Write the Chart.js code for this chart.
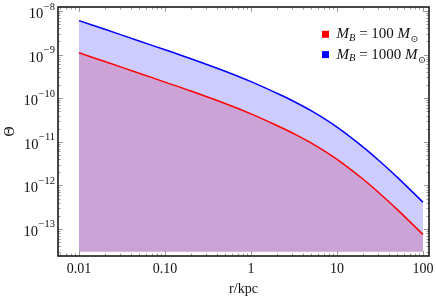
<!DOCTYPE html>
<html>
<head>
<meta charset="utf-8">
<script src="https://cdn.jsdelivr.net/npm/chart.js@4.4.1/dist/chart.umd.min.js"></script>
<style>
  html, body { margin: 0; padding: 0; background: #fff; }
</style>
</head>
<body>
<canvas id="chart" width="436" height="298"></canvas>
<script>
const rKpc = [0.01, 0.02, 0.05, 0.1, 0.2, 0.5, 1, 2, 3, 5, 10, 20, 30, 50, 100];
const theta100 = [1.10e-9, 6.92e-10, 3.74e-10, 2.34e-10, 1.46e-10, 7.55e-11, 4.37e-11, 2.37e-11, 1.61e-11, 9.4e-12, 3.95e-12, 1.40e-12, 7.06e-13, 2.82e-13, 7.45e-14];
const theta1000 = [6.03e-9, 3.80e-9, 2.06e-9, 1.29e-9, 8.04e-10, 4.15e-10, 2.40e-10, 1.30e-10, 8.87e-11, 5.16e-11, 2.17e-11, 7.67e-12, 3.88e-12, 1.55e-12, 4.09e-13];
const fillFloor = 3e-14;
const massLabels = ['100', '1000'];
const xTickVals = [0.01, 0.1, 1, 10, 100];
const xTickLabels = ['0.01', '0.10', '1', '10', '100'];
const yTickExps = [-8, -9, -10, -11, -12, -13];

const serif = '"Liberation Serif", "DejaVu Serif", serif';
const lineColors = ['#ff0000', '#0000ff'];
const toPoints = (vals) => rKpc.map((r, i) => ({ x: r, y: vals[i] }));

// frame, inward ticks, tick labels, titles and legend
const decor = {
  id: 'decor',
  afterDatasetsDraw(chart) {
    const { ctx, chartArea: a, scales: { x, y } } = chart;
    ctx.save();

    ctx.strokeStyle = '#999';
    ctx.lineWidth = 1;
    ctx.beginPath();
    for (let d = -3; d <= 2; d++) {
      for (let k = 1; k <= 9; k++) {
        const v = k * Math.pow(10, d);
        if (v < x.min || v > x.max) continue;
        const px = Math.round(x.getPixelForValue(v)) + 0.5;
        const len = k === 1 ? 5 : 2.5;
        ctx.moveTo(px, a.bottom); ctx.lineTo(px, a.bottom - len);
        ctx.moveTo(px, a.top); ctx.lineTo(px, a.top + len);
      }
    }
    for (let d = -14; d <= -8; d++) {
      for (let k = 1; k <= 9; k++) {
        const v = k * Math.pow(10, d);
        if (v < y.min || v > y.max) continue;
        const py = Math.round(y.getPixelForValue(v)) + 0.5;
        const len = k === 1 ? 5 : 2.5;
        ctx.moveTo(a.left, py); ctx.lineTo(a.left + len, py);
        ctx.moveTo(a.right, py); ctx.lineTo(a.right - len, py);
      }
    }
    ctx.stroke();

    ctx.strokeStyle = '#1a1a1a';
    ctx.lineWidth = 1.6;
    ctx.strokeRect(a.left, a.top, a.right - a.left, a.bottom - a.top);

    ctx.fillStyle = '#111';
    ctx.textBaseline = 'alphabetic';

    // x tick labels
    ctx.font = '14px ' + serif;
    ctx.textAlign = 'center';
    xTickVals.forEach((v, i) => {
      ctx.fillText(xTickLabels[i], x.getPixelForValue(v), 273);
    });
    ctx.fillText('r/kpc', (a.left + a.right) / 2, 293);

    // y tick labels: 10 with superscript exponent
    ctx.textAlign = 'left';
    yTickExps.forEach((e) => {
      const py = y.getPixelForValue(Math.pow(10, e));
      const sup = '\u2212' + Math.abs(e);
      ctx.font = '10.5px ' + serif;
      const supW = ctx.measureText(sup).width;
      ctx.font = '14.5px ' + serif;
      const baseW = ctx.measureText('10').width;
      const right = a.left - 3;
      ctx.fillText('10', right - supW - baseW - 0.5, py + 7);
      ctx.font = '10.5px ' + serif;
      ctx.fillText(sup, right - supW, py - 1.5);
    });

    // y title
    ctx.save();
    ctx.translate(10, (a.top + a.bottom) / 2);
    ctx.rotate(-Math.PI / 2);
    ctx.textAlign = 'center';
    ctx.textBaseline = 'middle';
    ctx.font = '14px ' + serif;
    ctx.fillText('\u0398', 0, 0);
    ctx.restore();

    // legend
    massLabels.forEach((m, i) => {
      const base = 38.3 + i * 20.3;
      ctx.fillStyle = lineColors[i];
      ctx.fillRect(322, base - 7.5, 7, 7);
      ctx.fillStyle = '#111';
      let cx = 336.5;
      const seg = (txt, font, dy) => {
        ctx.font = font;
        ctx.fillText(txt, cx, base + dy);
        cx += ctx.measureText(txt).width;
      };
      seg('M', 'italic 15px ' + serif, 0);
      seg('B', 'italic 10.5px ' + serif, 2.5);
      seg(' = ' + m + ' ', '15px ' + serif, 0);
      seg('M', 'italic 15px ' + serif, 0);
      cx += 0.5;
      seg('\u2299', '9.5px ' + serif, 4);
    });

    ctx.restore();
  }
};

new Chart(document.getElementById('chart'), {
  type: 'line',
  data: {
    datasets: [
      {
        label: 'M_B = 100 M_sun',
        data: toPoints(theta100),
        borderColor: lineColors[0],
        backgroundColor: '#cca3d6',
        fill: { value: fillFloor },
        borderWidth: 1.5,
        pointRadius: 0,
        tension: 0.35
      },
      {
        label: 'M_B = 1000 M_sun',
        data: toPoints(theta1000),
        borderColor: lineColors[1],
        backgroundColor: '#ccccff',
        fill: '-1',
        borderWidth: 1.5,
        pointRadius: 0,
        tension: 0.35
      }
    ]
  },
  options: {
    responsive: false,
    animation: false,
    layout: { padding: { top: 7, right: 7, left: 0, bottom: 0 } },
    plugins: { legend: { display: false }, tooltip: { enabled: false } },
    scales: {
      x: {
        type: 'logarithmic',
        min: 0.0057,
        max: 117.4,
        grid: { display: false },
        border: { display: false },
        ticks: { display: false },
        afterFit: (s) => { s.height = 42; }
      },
      y: {
        type: 'logarithmic',
        min: 2.4e-14,
        max: 1.236e-8,
        grid: { display: false },
        border: { display: false },
        ticks: { display: false },
        afterFit: (s) => { s.width = 58; }
      }
    }
  },
  plugins: [decor]
});
</script>
</body>
</html>
